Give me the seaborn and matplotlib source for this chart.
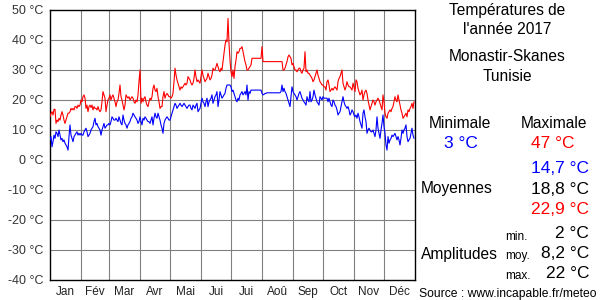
import numpy as np
import pandas as pd
import matplotlib
matplotlib.use("Agg")
import matplotlib.pyplot as plt
import seaborn as sns

months = ["Jan", "Fév", "Mar", "Avr", "Mai", "Jui", "Jui", "Aoû", "Sep", "Oct", "Nov", "Déc"]
month_days = [31, 28, 31, 30, 31, 30, 31, 31, 30, 31, 30, 31]
y_ticks = [50, 40, 30, 20, 10, 0, -10, -20, -30, -40]

tmax = [
    # Jan
    14.4, 15.5, 16.1, 15, 16.9, 16.9, 12.2, 13.3, 12.8, 13.9, 13.3, 15, 16.1, 15, 13.3, 12.2,
    13.3, 14.4, 15.6, 15.6, 16.1, 17.2, 16.7, 17.2, 16.7, 17.8, 17.8, 17.2, 18.3, 17.8, 18.3,
    # Feb
    20, 19.4, 21.1, 21.7, 20.6, 17.2, 18.3, 16.1, 17.8, 18.3, 17.5, 18.3, 16.7, 17.8, 17.2, 17.2,
    16.7, 17.8, 16.7, 16.1, 16.7, 19.4, 22.8, 21.7, 20.6, 16.1, 18.3, 20,
    # Mar
    20.6, 21.7, 20, 21.1, 21.7, 20.6, 19.4, 17.8, 19.4, 20, 22.2, 25, 21.1, 20, 18.3, 16.7,
    18.3, 21.7, 21.1, 20.6, 21.1, 20, 20.6, 21.1, 20.6, 19.4, 18.9, 20, 19.4, 21.7, 26.1,
    # Apr
    30, 18.9, 20.6, 19.4, 20.6, 21.1, 19.4, 18.3, 17.8, 19.4, 20.6, 20, 21.1, 23.9, 25, 23.3,
    22.8, 23.9, 21.1, 19.4, 17.2, 17.8, 17.8, 21.1, 22.8, 20.6, 21.7, 22.2, 21.7, 21.1,
    # May
    21.1, 20.6, 21.1, 22.2, 26.1, 30.6, 28.3, 26.7, 25.6, 24.4, 23.3, 24.4, 23.9, 24.4, 25, 25.6,
    25, 25.6, 27.8, 27.2, 26.7, 25.6, 25, 25.6, 27.2, 30, 27.8, 26.1, 26.7, 26.1, 25.6,
    # Jun
    27.8, 30, 28.3, 27.2, 26.1, 26.7, 27.2, 28.9, 27.8, 26.7, 27.2, 28.3, 30.6, 30, 30, 31.1,
    32.2, 31.1, 30, 29.4, 30.6, 30, 32.8, 35.6, 38.3, 40, 39.4, 47.2, 38.9, 33.3,
    # Jul
    29.4, 27.8, 30, 27.2, 31.1, 33.3, 36.1, 35.6, 36.1, 37.2, 37.2, 37.8, 36.1, 34.4, 32.8, 31.7,
    30, 30, 30.6, 31.1, 31.7, 33.9, 33.9, 33.9, 33.9, 33.9, 33.9, 33.9, 33.9, 33.9, 33.9,
    # Aug
    37.8, 32.8, 32.8, 32.8, 32.8, 32.8, 32.8, 32.8, 32.8, 32.8, 32.8, 32.8, 32.8, 32.8, 32.8, 32.8,
    32.8, 32.8, 32.8, 32.8, 32.8, 30, 30, 30.6, 31.7, 32.8, 34.4, 35, 34.4, 33.9, 31.7,
    # Sep
    32.2, 31.1, 30, 30, 29.4, 30, 30.6, 30.6, 29.4, 28.9, 30, 30.6, 36.1, 29.4, 30, 28.9,
    28.9, 28.3, 27.8, 27.2, 26.1, 26.7, 27.8, 28.9, 30, 28.3, 27.2, 26.1, 25.6, 25,
    # Oct
    25, 24.4, 24.4, 23.3, 26.1, 26.7, 25, 22.8, 23.3, 23.9, 23.3, 23.9, 24.4, 23.9, 23.3, 26.1,
    27.2, 27.8, 28.9, 30, 25.6, 24.4, 23.3, 24.4, 26.1, 25, 24.4, 24.4, 23.9, 23.3, 25.6,
    # Nov
    24.4, 22.8, 26.7, 26.1, 23.9, 22.8, 21.7, 22.2, 23.3, 20, 21.7, 22.8, 23.3, 22.2, 20, 18.3,
    16.7, 17.8, 18.9, 20, 19.4, 18.3, 19.4, 20, 20.6, 20, 18.9, 17.8, 16.7, 21.7,
    # Dec
    19.4, 15.6, 14.4, 13.9, 15.6, 16.1, 16.7, 16.1, 17.2, 17.8, 19.4, 21.1, 20, 19.4, 21.7, 20,
    18.3, 16.7, 15.6, 13.9, 14.4, 15, 15.6, 14.4, 16.7, 16.1, 17.2, 17.8, 18.9, 17.2, 19.4,
]

tmin = [
    # Jan
    6.7, 7.8, 4.4, 6.1, 8.3, 7.2, 9.4, 8.9, 7.8, 10, 8.3, 6.7, 7.2, 6.1, 6.7, 5.6,
    5, 4.4, 3.3, 7.8, 11.7, 8.3, 7.2, 6.1, 7.8, 8.3, 8.9, 9.4, 8.3, 8.9, 8.3,
    # Feb
    8.9, 8.3, 8.3, 9.4, 10, 10.6, 9.4, 7.8, 8.3, 8.9, 10, 10.6, 11.1, 12.8, 13.9, 11.7,
    12.2, 11.1, 10.6, 10, 8.3, 10, 11.1, 12.2, 10.6, 11.1, 11.7, 11.7,
    # Mar
    12.2, 11.7, 12.8, 14.4, 13.9, 13.3, 13.3, 13.9, 13.3, 12.8, 14.4, 13.3, 12.2, 11.7, 15, 13.3,
    12.2, 11.7, 10.6, 11.7, 12.2, 12.8, 13.9, 14.4, 15.6, 15, 14.4, 13.9, 13.3, 12.2, 12.8,
    # Apr
    14.4, 12.8, 11.7, 13.9, 13.3, 14.4, 13.9, 13.3, 12.8, 12.8, 12.2, 13.3, 14.4, 11.7, 13.9, 15.6,
    14.4, 13.9, 15.6, 14.4, 13.3, 11.7, 10.6, 8.9, 12.2, 13.3, 13.9, 14.4, 13.9, 13.3,
    # May
    13.3, 14.4, 15.6, 16.7, 17.8, 18.9, 18.3, 17.2, 17.8, 18.3, 18.9, 18.3, 17.8, 18.3, 18.9, 18.3,
    17.8, 17.2, 17.8, 18.3, 18.3, 17.2, 16.7, 18.3, 17.8, 17.2, 18.3, 18.9, 16.1, 16.7, 17.2,
    # Jun
    18.9, 20.6, 19.4, 18.9, 17.8, 19.4, 20.6, 17.8, 19.4, 20, 20.6, 21.7, 18.9, 20, 21.1, 21.7,
    22.8, 17.8, 20, 22.8, 21.7, 20.6, 21.1, 21.7, 22.2, 23.9, 25, 25, 25, 25,
    # Jul
    24.4, 22.8, 23.3, 22.2, 21.1, 20, 19.4, 20.6, 20, 21.7, 22.2, 22.8, 21.7, 22.2, 22.8, 21.7,
    25, 20, 22.8, 22.2, 23.3, 23.3, 23.3, 23.3, 23.3, 23.3, 23.3, 23.3, 23.3, 23.3, 23.3,
    # Aug
    22.2, 21.7, 21.9, 22.2, 22.2, 22.4, 22.4, 22.4, 22.4, 22.4, 22.4, 22.4, 22.4, 22.4, 22.4, 22.4,
    22.4, 22.4, 22.4, 22.8, 25, 22.8, 23.9, 22.8, 22.2, 21.1, 20, 18.9, 17.8, 21.1, 24.4,
    # Sep
    22.8, 22.2, 21.7, 21.1, 20, 21.1, 22.2, 22.8, 21.7, 20.6, 20, 19.4, 18.9, 18.3, 21.1, 20,
    19.4, 22.8, 19.4, 20, 21.1, 23.3, 21.7, 20.6, 19.4, 18.9, 18.3, 21.1, 20.6, 20,
    # Oct
    21.1, 20.6, 20.6, 20.6, 20.6, 19.4, 20.6, 19.4, 18.3, 17.8, 20, 19.4, 18.3, 17.8, 16.7, 15,
    15.6, 16.1, 17.8, 19.4, 21.1, 19.4, 18.3, 17.8, 17.2, 17.8, 16.7, 15, 15.6, 16.7, 16.1,
    # Nov
    15, 14.4, 15, 13.9, 15.6, 14.4, 12.8, 11.7, 10.6, 15.6, 16.7, 14.4, 12.8, 8.9, 10, 10.6,
    10, 9.4, 9.4, 10, 8.9, 7.8, 10, 14.4, 10.6, 8.9, 7.2, 10, 12.2, 15,
    # Dec
    11.1, 8.9, 5, 3.3, 7.8, 5.6, 6.7, 7.2, 8.3, 7.8, 8.3, 8.9, 7.8, 6.7, 7.8, 6.7,
    5, 7.2, 10, 8.9, 10, 10.6, 11.7, 7.8, 6.1, 6.7, 7.2, 8.9, 10.6, 8.3, 7.2,
]

days = np.arange(len(tmax))
df = pd.DataFrame({
    "jour": np.concatenate([days, days]),
    "temp": tmin + tmax,
    "serie": ["min"] * len(tmin) + ["max"] * len(tmax),
})

sns.set_style("white")
plt.rcParams["font.family"] = ["Liberation Sans", "DejaVu Sans"]

fig = plt.figure(figsize=(6, 3), dpi=100)
ax = fig.add_axes([50 / 600, 20 / 300, 365 / 600, 270 / 300])

bounds = np.concatenate([[0], np.cumsum(month_days)])
for b in bounds[1:-1]:
    ax.axvline(b, color="#808080", lw=0.8, zorder=1)
for t in y_ticks[1:-1]:
    ax.axhline(t, color="#808080", lw=0.8, zorder=1)

sns.lineplot(data=df, x="jour", y="temp", hue="serie",
             palette={"min": "#0000ff", "max": "#ff0000"},
             linewidth=0.8, legend=False, ax=ax, zorder=3)

ax.set_xlim(0, 365)
ax.set_ylim(-40, 50)
ax.set_yticks(y_ticks)
ax.set_yticklabels([f"{t} °C" for t in y_ticks], fontsize=9, color="#333333")
centers = (bounds[:-1] + bounds[1:]) / 2
ax.set_xticks(centers)
ax.set_xticklabels(months, fontsize=8.5, color="#222222")
ax.tick_params(axis="both", length=0, pad=5)
ax.tick_params(axis="x", pad=4)
ax.set_xlabel("")
ax.set_ylabel("")
for s in ax.spines.values():
    s.set_visible(True)
    s.set_color("black")
    s.set_linewidth(1)

def ft(x, y, s, color="black", size=11, ha="center"):
    fig.text(x / 600, 1 - y / 300, s, color=color, fontsize=size, ha=ha, va="center")

ft(507, 10, "Températures de", size=11.2)
ft(507, 30, "l'année 2017", size=11.2)
ft(507, 57, "Monastir-Skanes", size=11.2)
ft(507, 76, "Tunisie", size=11.2)
ft(460, 124, "Minimale", size=11.2)
ft(554, 124, "Maximale", size=11.2)
ft(461, 144, "3 °C", color="#0000ff", size=12.5)
ft(553, 144, "47 °C", color="#ff0000", size=12.5)
ft(589, 168, "14,7 °C", color="#0000ff", size=12.5, ha="right")
ft(457, 189, "Moyennes", size=11.2)
ft(589, 189, "18,8 °C", size=12.5, ha="right")
ft(589, 209, "22,9 °C", color="#ff0000", size=12.5, ha="right")
ft(505, 237, "min.", size=8.5, ha="left")
ft(589, 233, "2 °C", size=12.5, ha="right")
ft(459, 254, "Amplitudes", size=11.2)
ft(505, 256, "moy.", size=8.5, ha="left")
ft(589, 254, "8,2 °C", size=12.5, ha="right")
ft(505, 276, "max.", size=8.5, ha="left")
ft(589, 274, "22 °C", size=12.5, ha="right")
ft(508, 294, "Source : www.incapable.fr/meteo", size=8.7)

fig.savefig("out.png", dpi=100)
